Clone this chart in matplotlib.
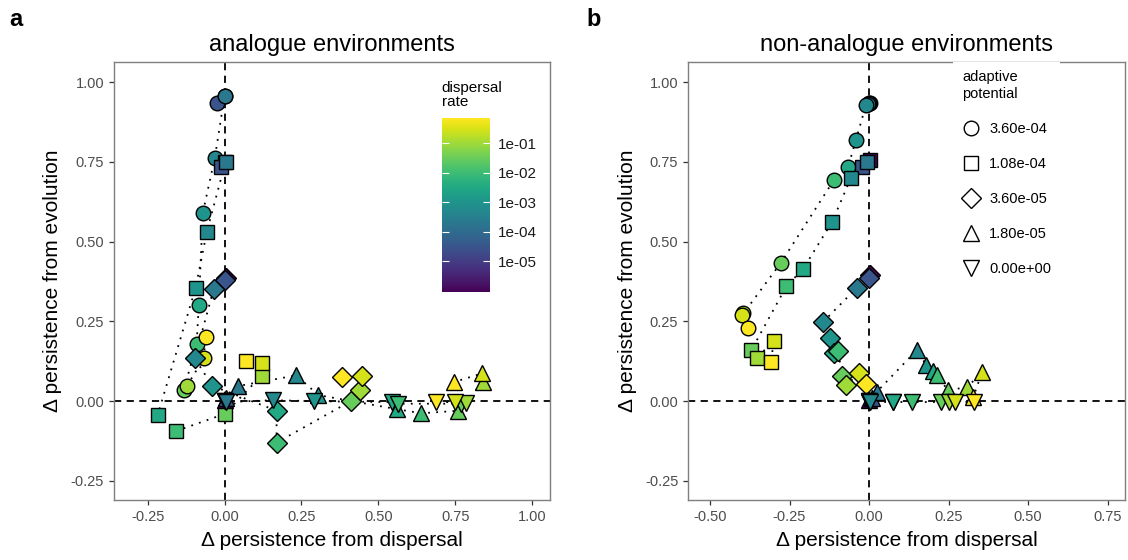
import matplotlib
matplotlib.use('Agg')
import matplotlib.pyplot as plt
from matplotlib.colors import LogNorm
from matplotlib.lines import Line2D
import matplotlib.cm as cm
import numpy as np

plt.rcParams['font.family'] = ['Liberation Sans', 'DejaVu Sans']

# dispersal rates (colour) shared by every series
disp_rate = [1e-6, 3e-5, 2e-4, 5e-4, 1e-3, 3e-3, 1e-2, 3e-2, 1e-1, 3e-1, 7e-1]
adaptive_labels = ['3.60e-04', '1.08e-04', '3.60e-05', '1.80e-05', '0.00e+00']
shape_codes = ['o', 's', 'D', '^', 'v']
shape_sizes = [10.5, 9.5, 10.5, 12, 12]

# a: analogue environments
ana_circle_x = [0.0, -0.026, 0.0, -0.032, -0.071, -0.084, -0.091, -0.133, -0.123, -0.068, -0.062]
ana_circle_y = [0.955, 0.934, 0.957, 0.762, 0.59, 0.30, 0.18, 0.034, 0.047, 0.134, 0.20]
ana_square_x = [0.0, -0.012, 0.003, -0.058, -0.094, -0.218, -0.159, 0.0, 0.12, 0.12, 0.068]
ana_square_y = [0.75, 0.734, 0.751, 0.53, 0.356, -0.044, -0.094, -0.04, 0.08, 0.119, 0.125]
ana_diamond_x = [0.004, 0.0, -0.036, -0.097, -0.04, 0.169, 0.169, 0.41, 0.44, 0.448, 0.383]
ana_diamond_y = [0.385, 0.381, 0.35, 0.134, 0.048, -0.03, -0.13, 0.0, 0.036, 0.078, 0.076]
ana_up_x = [0.0, 0.005, 0.042, 0.233, 0.305, 0.56, 0.64, 0.76, 0.84, 0.837, 0.747]
ana_up_y = [0.005, 0.01, 0.047, 0.081, 0.019, -0.025, -0.038, -0.03, 0.06, 0.087, 0.06]
ana_down_x = [0.0, 0.0, 0.003, 0.156, 0.292, 0.545, 0.565, 0.77, 0.785, 0.75, 0.688]
ana_down_y = [0.0, 0.0, -0.003, 0.003, 0.0, -0.003, -0.008, -0.008, -0.005, -0.003, -0.003]

# b: non-analogue environments
non_circle_x = [0.003, 0.0, -0.005, -0.01, -0.041, -0.066, -0.11, -0.277, -0.395, -0.40, -0.38]
non_circle_y = [0.935, 0.935, 0.93, 0.928, 0.82, 0.734, 0.694, 0.434, 0.275, 0.27, 0.228]
non_square_x = [0.003, -0.022, -0.007, -0.057, -0.116, -0.207, -0.26, -0.37, -0.353, -0.30, -0.308]
non_square_y = [0.756, 0.734, 0.751, 0.70, 0.5625, 0.415, 0.36, 0.16, 0.135, 0.19, 0.122]
non_diamond_x = [0.002, 0.0, -0.038, -0.145, -0.123, -0.11, -0.097, -0.085, -0.072, -0.031, -0.01]
non_diamond_y = [0.394, 0.385, 0.356, 0.248, 0.197, 0.15, 0.156, 0.08, 0.05, 0.088, 0.053]
non_up_x = [0.0, 0.01, 0.025, 0.15, 0.18, 0.2, 0.213, 0.248, 0.308, 0.355, 0.327]
non_up_y = [0.005, 0.01, 0.03, 0.16, 0.113, 0.095, 0.081, 0.034, 0.044, 0.09, 0.012]
non_down_x = [0.0, 0.0, 0.0, 0.002, 0.075, 0.075, 0.135, 0.226, 0.25, 0.27, 0.33]
non_down_y = [0.0, 0.0, -0.003, -0.003, -0.003, -0.003, -0.003, -0.003, -0.003, -0.003, -0.003]

ana_series = [(ana_circle_x, ana_circle_y), (ana_square_x, ana_square_y),
              (ana_diamond_x, ana_diamond_y), (ana_up_x, ana_up_y),
              (ana_down_x, ana_down_y)]
non_series = [(non_circle_x, non_circle_y), (non_square_x, non_square_y),
              (non_diamond_x, non_diamond_y), (non_up_x, non_up_y),
              (non_down_x, non_down_y)]

norm = LogNorm(vmin=10**-6.05, vmax=10**-0.15)
cmap = plt.get_cmap('viridis')
grey = '#4d4d4d'

fig = plt.figure(figsize=(11.28, 5.6), dpi=100)
ax_a = fig.add_axes([0.101, 0.107, 0.3865, 0.782])
ax_b = fig.add_axes([0.610, 0.107, 0.3875, 0.782])


def draw_panel(ax, series, xlim, xticks, title):
    ax.axhline(0, color='black', ls=(0, (4, 3)), lw=1.3, zorder=1)
    ax.axvline(0, color='black', ls=(0, (4, 3)), lw=1.3, zorder=1)
    # dotted paths in order of dispersal rate
    for xs, ys in series:
        ax.plot(xs, ys, color='black', ls=(0, (1, 3.5)), lw=1.3, zorder=2)
    # points, lower dispersal first
    for (xs, ys), m, ms in zip(series, shape_codes, shape_sizes):
        for x, y, d in zip(xs, ys, disp_rate):
            ax.plot(x, y, marker=m, ms=ms, mfc=cmap(norm(d)), mec='black',
                    mew=1.0, ls='none', zorder=3)
    ax.set_xlim(*xlim)
    ax.set_ylim(-0.31, 1.0625)
    ax.set_xticks(xticks)
    ax.set_yticks([-0.25, 0, 0.25, 0.5, 0.75, 1.0])
    ax.xaxis.set_major_formatter(plt.FormatStrFormatter('%.2f'))
    ax.yaxis.set_major_formatter(plt.FormatStrFormatter('%.2f'))
    ax.tick_params(colors='#333333', labelcolor=grey, labelsize=10.5,
                   length=3.5, width=0.9)
    for sp in ax.spines.values():
        sp.set_color('#7f7f7f')
        sp.set_linewidth(1.0)
    ax.set_xlabel('Δ persistence from dispersal', fontsize=15, labelpad=5)
    ax.set_ylabel('Δ persistence from evolution', fontsize=15, labelpad=6)
    ax.set_title(title, fontsize=17, pad=8)


draw_panel(ax_a, ana_series, (-0.36, 1.058), [-0.25, 0, 0.25, 0.5, 0.75, 1.0],
           'analogue environments')
draw_panel(ax_b, non_series, (-0.569, 0.805), [-0.5, -0.25, 0, 0.25, 0.5, 0.75],
           'non-analogue environments')

fig.text(0.008, 0.965, 'a', fontsize=17, fontweight='bold', va='center')
fig.text(0.520, 0.965, 'b', fontsize=17, fontweight='bold', va='center')

# colour bar inside panel a
cax = ax_a.inset_axes([0.752, 0.475, 0.110, 0.397])
sm = cm.ScalarMappable(norm=norm, cmap=cmap)
cb = fig.colorbar(sm, cax=cax, ticks=[1e-1, 1e-2, 1e-3, 1e-4, 1e-5])
cb.ax.set_yticklabels(['1e-01', '1e-02', '1e-03', '1e-04', '1e-05'])
cb.ax.minorticks_off()
cb.outline.set_visible(False)
cb.ax.tick_params(left=True, right=True, labelleft=False, labelright=True,
                  direction='in', color='white', length=5, width=0.8,
                  labelsize=11, labelcolor='#1a1a1a', pad=6)
ax_a.text(0.752, 0.958, 'dispersal\nrate', transform=ax_a.transAxes,
          fontsize=11, va='top', ha='left', linespacing=1.0)

# shape legend in panel b
handles = [Line2D([], [], marker=m, ms=s, mfc='white', mec='black', mew=1.0,
                  ls='none') for m, s in zip(shape_codes, shape_sizes)]
leg = ax_b.legend(handles, adaptive_labels, title='adaptive\npotential',
                  loc='upper left', bbox_to_anchor=(0.59, 1.018),
                  fontsize=10.5, title_fontsize=10.5, labelspacing=1.45,
                  handlelength=1.3, handletextpad=0.55, borderpad=0.6,
                  alignment='left', frameon=True, fancybox=False)
leg.get_frame().set_facecolor('white')
leg.get_frame().set_edgecolor('none')
leg.get_frame().set_alpha(1)

fig.savefig('out.png', dpi=100)
